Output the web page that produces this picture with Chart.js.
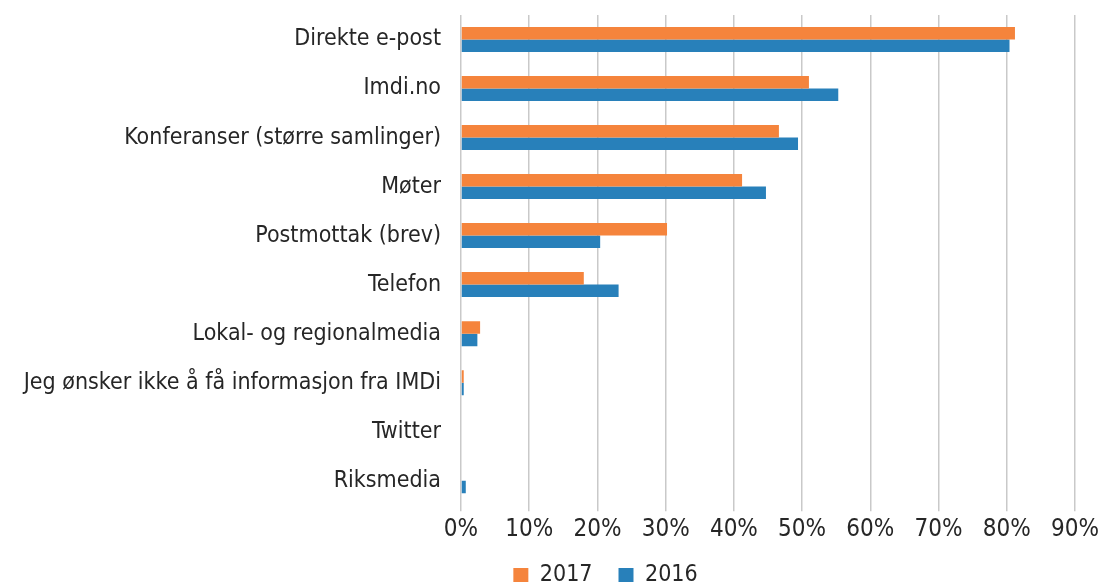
<!DOCTYPE html>
<html>
<head>
<meta charset="utf-8">
<script src="https://cdn.jsdelivr.net/npm/chart.js@4/dist/chart.umd.min.js"></script>
<style>
  html, body { margin: 0; padding: 0; background: #ffffff; }
  #wrap { width: 1105px; height: 582px; }
</style>
</head>
<body>
<div id="wrap"><canvas id="kanalChart"></canvas></div>
<script>
const kategorier = [
    'Direkte e-post',
    'Imdi.no',
    'Konferanser (større samlinger)',
    'Møter',
    'Postmottak (brev)',
    'Telefon',
    'Lokal- og regionalmedia',
    'Jeg ønsker ikke å få informasjon fra IMDi',
    'Twitter',
    'Riksmedia'
];
const verdier2017 = [81.2, 51.0, 46.6, 41.2, 30.2, 18.0, 2.8, 0.4, 0, 0];
const verdier2016 = [80.4, 55.3, 49.4, 44.7, 20.4, 23.1, 2.4, 0.4, 0, 0.7];
const xTicks = [0, 10, 20, 30, 40, 50, 60, 70, 80, 90];

const fontFamily = '"DejaVu Sans Condensed", "DejaVu Sans", sans-serif';
const tekstFarge = '#262626';

// legenden: lavere boks og flyttet litt til høyre, slik som i originalen
const legendShift = {
    id: 'legendShift',
    beforeLayout: function(chart) {
        const lg = chart.legend;
        if (!lg || lg._kortFit) return;
        const origFit = lg.fit.bind(lg);
        lg.fit = function() {
            origFit();
            this.height = 34;
        };
        lg._kortFit = true;
    },
    afterLayout: function(chart) {
        const lg = chart.legend;
        if (!lg) return;
        const dx = 68;
        lg.left += dx;
        lg.right += dx;
        lg.top = 538;
        lg.bottom = 582;
    }
};

document.addEventListener('DOMContentLoaded', function() {
    const ctx = document.getElementById('kanalChart');
    new Chart(ctx, {
        type: 'bar',
        data: {
            labels: kategorier,
            datasets: [
                {
                    label: '2017',
                    data: verdier2017,
                    backgroundColor: '#f5843c',
                    borderWidth: 0,
                    categoryPercentage: 0.51,
                    barPercentage: 1.0
                },
                {
                    label: '2016',
                    data: verdier2016,
                    backgroundColor: '#2880ba',
                    borderWidth: 0,
                    categoryPercentage: 0.51,
                    barPercentage: 1.0
                }
            ]
        },
        plugins: [legendShift],
        options: {
            indexAxis: 'y',
            responsive: true,
            maintainAspectRatio: false,
            animation: false,
            layout: {
                padding: { left: 0, right: 30, top: 15, bottom: 0 }
            },
            plugins: {
                legend: {
                    position: 'bottom',
                    labels: {
                        color: tekstFarge,
                        font: { family: fontFamily, size: 23 },
                        boxWidth: 15,
                        boxHeight: 15,
                        padding: 26
                    }
                },
                tooltip: { enabled: false }
            },
            scales: {
                x: {
                    min: 0,
                    max: 90,
                    afterBuildTicks: function(axis) {
                        axis.ticks = xTicks.map(v => ({ value: v }));
                    },
                    ticks: {
                        color: tekstFarge,
                        font: { family: fontFamily, size: 24 },
                        padding: 4,
                        maxRotation: 0,
                        callback: function(value) {
                            return value + '%';
                        }
                    },
                    grid: {
                        color: '#c9c9c9',
                        lineWidth: 1.5,
                        tickLength: 6
                    },
                    border: { display: false }
                },
                y: {
                    afterFit: function(axis) {
                        axis.width = 461;
                        axis.paddingTop = 0;
                        axis.paddingBottom = 0;
                    },
                    ticks: {
                        color: tekstFarge,
                        font: { family: fontFamily, size: 23 },
                        padding: 12
                    },
                    grid: { display: false },
                    border: { display: false }
                }
            }
        }
    });
});
</script>
</body>
</html>
